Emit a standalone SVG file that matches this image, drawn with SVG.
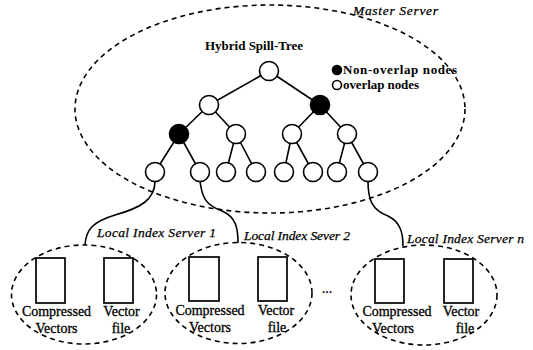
<svg xmlns="http://www.w3.org/2000/svg" width="533" height="350" viewBox="0 0 533 350">
  <style>
    .dash { fill: none; stroke: #000; stroke-width: 1.6; stroke-dasharray: 5 4; }
    .edge { fill: none; stroke: #000; stroke-width: 1.6; }
    .node { fill: #fff; stroke: #000; stroke-width: 1.6; }
    .solid { fill: #000; stroke: #000; stroke-width: 1.6; }
    .file { fill: #fff; stroke: #000; stroke-width: 1.7; }
    text { font-family: 'Liberation Serif', 'DejaVu Serif', serif; fill: #000; }
    .lbl { font-size: 14px; stroke: #000; stroke-width: 0.3; }
    .it { font-style: italic; font-size: 13.5px; stroke: #000; stroke-width: 0.25; }
    .bold { font-weight: bold; font-size: 13px; }
    .mid { text-anchor: middle; }
  </style>

  <!-- master server boundary -->
  <g id="master-server">
    <ellipse class="dash" cx="270" cy="109" rx="195" ry="104"/>
    <text class="it" x="353" y="15" font-size="14" textLength="85">Master Server</text>
    <text class="bold mid" x="254" y="50" font-size="12.5">Hybrid Spill-Tree</text>
  </g>

  <!-- legend -->
  <g id="legend">
    <circle class="solid" cx="337" cy="70" r="4.5"/>
    <text class="bold" x="343" y="74" textLength="114">Non-overlap nodes</text>
    <circle class="node" cx="337" cy="85" r="4.5"/>
    <text class="bold" x="343" y="89" textLength="76">overlap nodes</text>
  </g>

  <!-- connectors: tree edges and links to the local index servers -->
  <g id="connectors">
    <path class="edge" d="M269,71 L209,105 M269,71 L320,105
      M209,105 L179,134 M209,105 L236,134 M320,105 L292,134 M320,105 L347,134
      M179,134 L155,172 M179,134 L200,172 M236,134 L226,172 M236,134 L256,172
      M292,134 L284,172 M292,134 L313,172 M347,134 L337,172 M347,134 L368,172"/>
    <path class="edge" d="M155,181 C155,200 140,208 115,215 C92,222 86,230 85,245"/>
    <path class="edge" d="M200,181 C202,198 206,205 222,211 C236,217 238,228 238,243"/>
    <path class="edge" d="M368,181 C368,200 372,210 388,216 C400,222 403,232 403,246"/>
  </g>

  <!-- tree nodes -->
  <g id="n-root"><circle class="node" cx="269" cy="71" r="9.5"/></g>
  <g id="n-1a"><circle class="node" cx="209" cy="105" r="9.5"/></g>
  <g id="n-1b"><circle class="solid" cx="320" cy="105" r="9.5"/></g>
  <g id="n-2a"><circle class="solid" cx="179" cy="134" r="9.5"/></g>
  <g id="n-2b"><circle class="node" cx="236" cy="134" r="9.5"/></g>
  <g id="n-2c"><circle class="node" cx="292" cy="134" r="9.5"/></g>
  <g id="n-2d"><circle class="node" cx="347" cy="134" r="9.5"/></g>
  <g id="n-3a"><circle class="node" cx="155" cy="172" r="9.5"/></g>
  <g id="n-3b"><circle class="node" cx="200" cy="172" r="9.5"/></g>
  <g id="n-3c"><circle class="node" cx="226" cy="172" r="9.5"/></g>
  <g id="n-3d"><circle class="node" cx="256" cy="172" r="9.5"/></g>
  <g id="n-3e"><circle class="node" cx="284" cy="172" r="9.5"/></g>
  <g id="n-3f"><circle class="node" cx="313" cy="172" r="9.5"/></g>
  <g id="n-3g"><circle class="node" cx="337" cy="172" r="9.5"/></g>
  <g id="n-3h"><circle class="node" cx="368" cy="172" r="9.5"/></g>

  <!-- local index server 1 -->
  <g id="local-1">
    <text class="it" x="97" y="237" textLength="119">Local  Index Server 1</text>
    <ellipse class="dash" cx="84" cy="294.5" rx="72.5" ry="49.5"/>
    <rect class="file" x="36" y="258" width="29" height="45"/>
    <rect class="file" x="104" y="258" width="29" height="45"/>
    <text class="lbl mid" x="56.5" y="316">Compressed</text>
    <text class="lbl mid" x="56.5" y="333">Vectors</text>
    <text class="lbl mid" x="121.5" y="316">Vector</text>
    <text class="lbl mid" x="121" y="333">file</text>
  </g>

  <!-- local index server 2 -->
  <g id="local-2">
    <text class="it" x="244" y="240" textLength="106">Local Index Sever 2</text>
    <ellipse class="dash" cx="238.5" cy="293" rx="73.5" ry="50.5"/>
    <rect class="file" x="189" y="257" width="30" height="44"/>
    <rect class="file" x="258" y="257" width="29" height="44"/>
    <text class="lbl mid" x="210" y="315">Compressed</text>
    <text class="lbl mid" x="210" y="332">Vectors</text>
    <text class="lbl mid" x="276" y="315">Vector</text>
    <text class="lbl mid" x="277" y="332">file</text>
  </g>

  <text class="lbl mid" x="327" y="293">...</text>

  <!-- local index server n -->
  <g id="local-n">
    <text class="it" x="407" y="243" textLength="117">Local Index Server n</text>
    <ellipse class="dash" cx="424" cy="295" rx="73" ry="50"/>
    <rect class="file" x="375" y="259" width="29" height="44"/>
    <rect class="file" x="444" y="259" width="29" height="44"/>
    <text class="lbl mid" x="397" y="316">Compressed</text>
    <text class="lbl mid" x="393" y="333">Vectors</text>
    <text class="lbl mid" x="461" y="316">Vector</text>
    <text class="lbl mid" x="465" y="333">file</text>
  </g>
</svg>
